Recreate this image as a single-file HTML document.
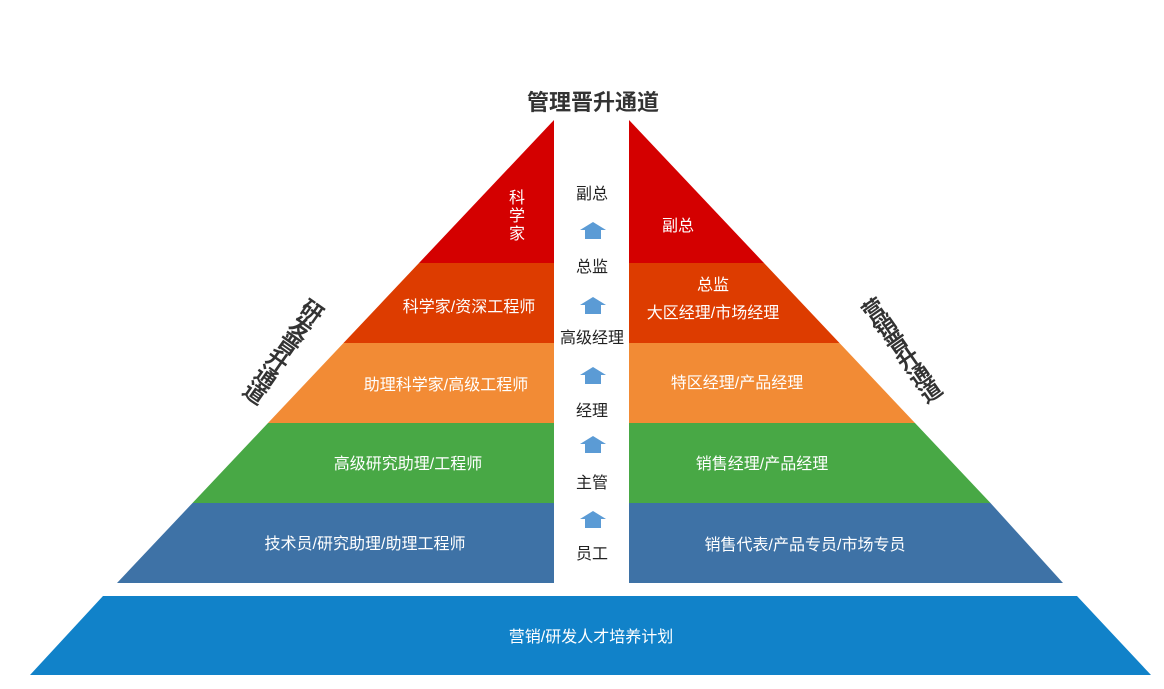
<!DOCTYPE html>
<html><head><meta charset="utf-8"><style>
html,body{margin:0;padding:0;background:#fff;}
svg{display:block;font-family:"Liberation Sans","Noto Sans CJK SC",sans-serif;}
</style></head><body>
<svg width="1164" height="689" viewBox="0 0 1164 689" xmlns="http://www.w3.org/2000/svg">
<rect width="1164" height="689" fill="#fff"/>
<polygon points="554,120 554,263 419,263" fill="#d40000"/>
<polygon points="419,263 554,263 554,343 343.5,343" fill="#dd3c00"/>
<polygon points="343.5,343 554,343 554,423 268,423" fill="#f28b35"/>
<polygon points="268,423 554,423 554,503 192.5,503" fill="#48a845"/>
<polygon points="192.5,503 554,503 554,583 117,583" fill="#3e72a6"/>
<polygon points="629,120 629,263 764,263" fill="#d40000"/>
<polygon points="764,263 629,263 629,343 839.5,343" fill="#dd3c00"/>
<polygon points="839.5,343 629,343 629,423 915,423" fill="#f28b35"/>
<polygon points="915,423 629,423 629,503 990.5,503" fill="#48a845"/>
<polygon points="990.5,503 629,503 629,583 1063,583" fill="#3e72a6"/>
<polygon points="103,596 1077,596 1151,675 30,675" fill="#1182c9"/>
<g fill="#fff" font-size="16" text-anchor="middle">
<text x="517" y="203">科</text><text x="517" y="221">学</text><text x="517" y="239">家</text>
<text x="469" y="312">科学家/资深工程师</text>
<text x="446" y="390">助理科学家/高级工程师</text>
<text x="408" y="469">高级研究助理/工程师</text>
<text x="365" y="549">技术员/研究助理/助理工程师</text>
<text x="678" y="231">副总</text>
<text x="713" y="290">总监</text>
<text x="713" y="318">大区经理/市场经理</text>
<text x="737" y="388">特区经理/产品经理</text>
<text x="762" y="469">销售经理/产品经理</text>
<text x="805" y="550">销售代表/产品专员/市场专员</text>
<text x="591" y="642">营销/研发人才培养计划</text>
</g>
<g fill="#222" font-size="16" text-anchor="middle">
<text x="592" y="199">副总</text>
<text x="592" y="272">总监</text>
<text x="592" y="343">高级经理</text>
<text x="592" y="416">经理</text>
<text x="592" y="488">主管</text>
<text x="592" y="559">员工</text>
</g>
<text x="593" y="110" font-size="22" font-weight="bold" fill="#333" text-anchor="middle">管理晋升通道</text>
<g fill="#5b9bd5">
<polygon points="593,222 606,230 601,230 601,239 585,239 585,230 580,230"/>
<polygon points="593,297 606,305 601,305 601,314 585,314 585,305 580,305"/>
<polygon points="593,367 606,375 601,375 601,384 585,384 585,375 580,375"/>
<polygon points="593,436 606,444 601,444 601,453 585,453 585,444 580,444"/>
<polygon points="593,511 606,519 601,519 601,528 585,528 585,519 580,519"/>
</g>
<g font-size="22" font-weight="bold" fill="#333" text-anchor="middle">
<text transform="translate(283,350) rotate(35)" style="writing-mode:vertical-rl;letter-spacing:-2px">研发晋升通道</text>
<text transform="translate(900,350) rotate(-35)" style="writing-mode:vertical-rl;letter-spacing:-2px">营销晋升通道</text>
</g>
</svg>
</body></html>
